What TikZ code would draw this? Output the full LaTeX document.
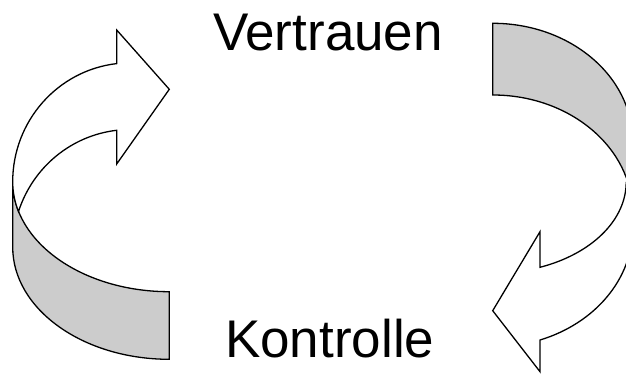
\documentclass[tikz,border=0pt]{standalone}
\usepackage{fontspec}
\setmainfont{Liberation Sans}
\definecolor{BandColor}{RGB}{204,204,204}
\definecolor{FaceColor}{RGB}{255,255,255}

\begin{document}
\begin{tikzpicture}[
    x=1pt, y=1pt,
    every node/.style={font=\fontsize{53}{64}\selectfont},
    band/.style={draw=black, line width=1.3pt, fill=BandColor},
    face/.style={draw=black, line width=1.3pt, fill=FaceColor},
]

% Frame (the right arrow runs off the page edge)
\clip (0,0) rectangle (626,374);

% Titles
\node[anchor=base] (trust) at (328,323.3) {Vertrauen};
\node[anchor=base] (control) at (329.7,16.7) {Kontrolle};

% Left arrow: grey band
\draw[band] (12.7,192.5) arc[start angle=180, end angle=270, x radius=156.6, y radius=110.2]
    -- (169.3,14.7) arc[start angle=270, end angle=180, x radius=156.6, y radius=112.3] -- cycle;

% Left arrow: white face with head
\draw[face] (116.7,310.7) -- (116.7,344) -- (169.3,284.7) -- (116.7,210) -- (116.7,243.7)
    arc[start angle=96.51, end angle=161.9, x radius=117.3, y radius=119]
    arc[start angle=195.65, end angle=180, x radius=156.6, y radius=110.2]
    arc[start angle=180, end angle=96.51, x radius=117.3, y radius=119] -- cycle;

% Right arrow: grey band
\draw[band] (492.7,350.7) arc[start angle=90, end angle=0, x radius=140, y radius=118]
    -- (632.7,161) arc[start angle=0, end angle=90, x radius=140, y radius=118] -- cycle;

% Right arrow: white face with head
\draw[face] (540,106.7) arc[start angle=-69.25, end angle=0, x radius=133.5, y radius=91.2]
    -- (632.7,145.6) arc[start angle=0, end angle=-70.25, x radius=140, y radius=118.6]
    -- (540,2.3) -- (492.7,63.3) -- (540,142.3) -- cycle;

\end{tikzpicture}
\end{document}
